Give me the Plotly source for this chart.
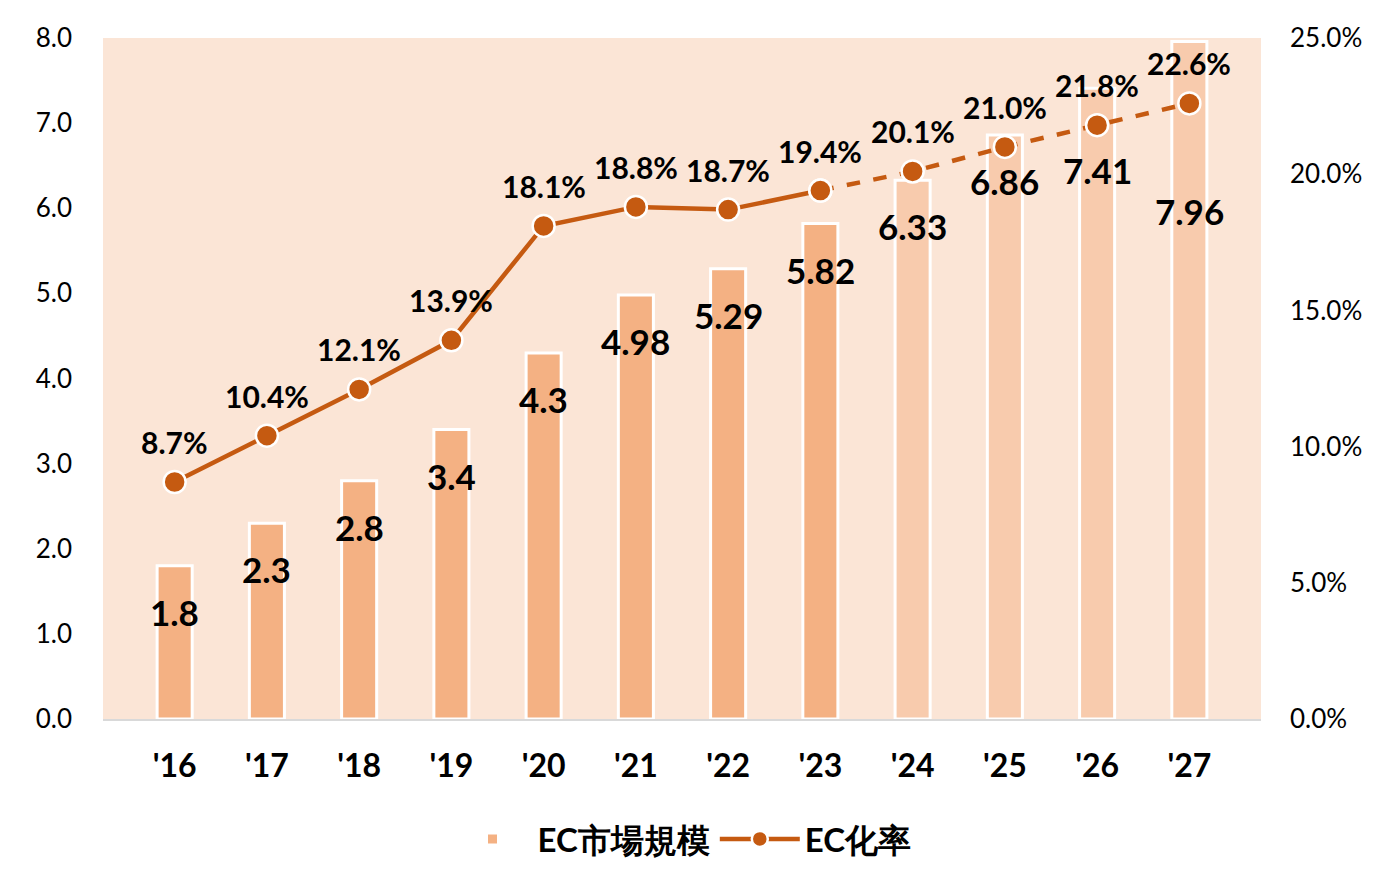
import plotly.graph_objects as go

years = ["'16","'17","'18","'19","'20","'21","'22","'23","'24","'25","'26","'27"]
market = [1.8,2.3,2.8,3.4,4.3,4.98,5.29,5.82,6.33,6.86,7.41,7.96]
market_txt = ["1.8","2.3","2.8","3.4","4.3","4.98","5.29","5.82","6.33","6.86","7.41","7.96"]
rate = [8.7,10.4,12.1,13.9,18.1,18.8,18.7,19.4,20.1,21.0,21.8,22.6]
label_shift = [-46,-46,-46,-46,-46,-46,-46,-46,-46,-46,-82,-170]

bar_colors = ["#F4B183"]*8 + ["#F8CBAD"]*4
line_c = "#C55A11"
font = "Lato"

fig = go.Figure()
fig.add_bar(x=years, y=market, name="EC市場規模", marker=dict(color=bar_colors, line=dict(color="white", width=3)),
            width=0.38)
fig.add_scatter(x=years[:8], y=rate[:8], yaxis="y2", name="EC化率", mode="lines+markers",
                line=dict(color=line_c, width=4.5),
                marker=dict(size=22, color=line_c, line=dict(color="white", width=2.5)))
fig.add_scatter(x=years[7:], y=rate[7:], yaxis="y2", showlegend=False, mode="lines+markers",
                line=dict(color=line_c, width=4.5, dash="dash"),
                marker=dict(size=22, color=line_c, line=dict(color="white", width=2.5)))
for x, v, t, s in zip(years, market, market_txt, label_shift):
    fig.add_annotation(x=x, y=v, text=t, showarrow=False, yshift=s,
                       font=dict(size=35, color="black", family=font, weight="bold"))
for x, r in zip(years, rate):
    fig.add_annotation(x=x, y=r, yref="y2", text=f"{r:.1f}%", showarrow=False, yshift=40,
                       font=dict(size=30, color="black", family=font, weight="bold"))

fig.update_layout(
    width=1386, height=870, paper_bgcolor="white", plot_bgcolor="#FBE5D6",
    margin=dict(l=95, r=133, t=30, b=159, autoexpand=False),
    font=dict(family=font, size=26, color="black"),
    bargap=0.6,
    xaxis=dict(tickfont=dict(size=32, weight="bold"), showline=True, linecolor="#D9D9D9", linewidth=1.5,
               ticks="", automargin=False, ticklabelstandoff=18),
    yaxis=dict(range=[0,8], dtick=1, tickformat=".1f", showgrid=False, zeroline=False,
               ticklabelstandoff=30, automargin=False),
    yaxis2=dict(range=[0,25], dtick=5, ticksuffix="%", tickformat=".1f", overlaying="y", side="right",
                showgrid=False, zeroline=False, ticklabelstandoff=28, automargin=False),
    legend=dict(orientation="h", x=0.5, xanchor="center", y=-0.135, yanchor="top",
                font=dict(size=33, weight="bold"), itemwidth=80),
)
fig.write_html("out.html")
